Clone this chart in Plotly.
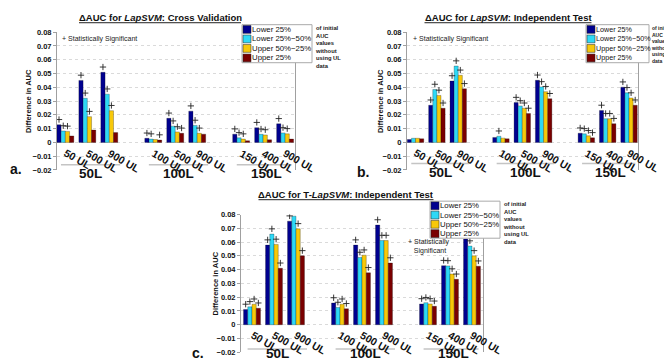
import plotly.graph_objects as go

W, H = 672, 361

# ---------------- data ----------------
clusters = [1, 2, 3, 5, 6, 7, 9, 10, 11]
ul_labels = ["50 UL", "500 UL", "900 UL", "100 UL", "500 UL", "900 UL", "150 UL", "400 UL", "900 UL"]
group_labels = ["50L", "100L", "150L"]
group_centers = [2.15, 6.15, 10.15]
group_spans = [(0.8, 3.5), (4.8, 7.5), (8.8, 11.3)]
series_names = ["Lower 25%", "Lower 25%\u221250%", "Upper 50%\u221225%", "Upper 25%"]
colors = ["#00008F", "#2ED8F6", "#F7C80A", "#7A0000"]

# Panel a: LapSVM, Cross Validation
a_lower25 = [0.0128, 0.0450, 0.0509, 0.0030, 0.0175, 0.0227, 0.0060, 0.0107, 0.0135]
a_lower2550 = [0.0083, 0.0320, 0.0350, 0.0024, 0.0118, 0.0123, 0.0033, 0.0059, 0.0069]
a_upper5025 = [0.0080, 0.0187, 0.0230, 0.0021, 0.0076, 0.0066, 0.0024, 0.0054, 0.0062]
a_upper25 = [0.0047, 0.0090, 0.0071, 0.0017, 0.0066, 0.0060, 0.0012, 0.0019, 0.0024]
a_sig_lower25 = [1, 1, 1, 1, 1, 1, 1, 1, 1]
a_sig_lower2550 = [1, 1, 1, 1, 1, 1, 1, 1, 1]
a_sig_upper5025 = [1, 1, 1, 0, 1, 1, 1, 1, 1]
a_sig_upper25 = [0, 0, 0, 1, 1, 0, 0, 0, 0]

# Panel b: LapSVM, Independent Test
b_lower25 = [0.0021, 0.0270, 0.0446, 0.0036, 0.0289, 0.0451, 0.0067, 0.0232, 0.0401]
b_lower2550 = [0.0030, 0.0384, 0.0554, 0.0045, 0.0265, 0.0403, 0.0062, 0.0172, 0.0360]
b_upper5025 = [0.0030, 0.0341, 0.0487, 0.0031, 0.0248, 0.0368, 0.0048, 0.0172, 0.0322]
b_upper25 = [0.0026, 0.0248, 0.0389, 0.0026, 0.0210, 0.0317, 0.0033, 0.0136, 0.0270]
b_sig_lower25 = [0, 1, 1, 0, 1, 1, 1, 1, 1]
b_sig_lower2550 = [0, 1, 1, 1, 1, 1, 1, 1, 1]
b_sig_upper5025 = [0, 1, 1, 0, 1, 1, 1, 1, 1]
b_sig_upper25 = [0, 1, 1, 0, 1, 1, 1, 1, 1]

# Panel c: T-LapSVM, Independent Test
c_lower25 = [0.0111, 0.0578, 0.0752, 0.0158, 0.0578, 0.0724, 0.0151, 0.0429, 0.0623]
c_lower2550 = [0.0130, 0.0658, 0.0788, 0.0125, 0.0488, 0.0611, 0.0160, 0.0427, 0.0571]
c_upper5025 = [0.0149, 0.0583, 0.0696, 0.0149, 0.0505, 0.0611, 0.0151, 0.0368, 0.0500]
c_upper25 = [0.0120, 0.0410, 0.0500, 0.0116, 0.0377, 0.0448, 0.0134, 0.0330, 0.0425]
c_sig_lower25 = [1, 1, 1, 1, 1, 1, 1, 1, 1]
c_sig_lower2550 = [1, 1, 1, 1, 1, 1, 1, 1, 1]
c_sig_upper5025 = [1, 1, 1, 1, 1, 1, 1, 1, 1]
c_sig_upper25 = [1, 1, 1, 1, 1, 1, 1, 1, 1]

y_min, y_max = -0.02, 0.08


def px(x):
    return x / W


def py(y):
    return 1 - y / H


panels = [
    dict(s="", vals=[a_lower25, a_lower2550, a_upper5025, a_upper25],
         sig=[a_sig_lower25, a_sig_lower2550, a_sig_upper5025, a_sig_upper25],
         dx=(49, 287), dy=(20.7, 162), xr=[0.62, 11.45],
         title="\u0394AUC for <i>LapSVM</i>: Cross Validation", tx=152, ty=5.5, tw=162,
         ylab_x=20, line_y=156.7, glab_y=165.5, plab="a.", plab_xy=(8, 161),
         leg=(234, 13, 304, 52), extra_x=306, leg_fs=7.8, ex_fs=5.8,
         sig_txt="+ Statistically Significant", sig_xy=(52, 28)),
    dict(s="2", vals=[b_lower25, b_lower2550, b_upper5025, b_upper25],
         sig=[b_sig_lower25, b_sig_lower2550, b_sig_upper5025, b_sig_upper25],
         dx=(399, 630), dy=(20.7, 162), xr=[0.6, 11.42],
         title="\u0394AUC for <i>LapSVM</i>: Independent Test", tx=500, ty=5.5, tw=167,
         ylab_x=372, line_y=155.5, glab_y=164.5, plab="b.", plab_xy=(355, 164),
         leg=(578, 13, 641, 52), extra_x=642, leg_fs=7.2, ex_fs=5.0,
         sig_txt="+ Statistically Significant", sig_xy=(403, 28)),
    dict(s="3", vals=[c_lower25, c_lower2550, c_upper5025, c_upper25],
         sig=[c_sig_lower25, c_sig_lower2550, c_sig_upper5025, c_sig_upper25],
         dx=(233, 475), dy=(207.7, 349), xr=[0.5, 11.5],
         title="\u0394AUC for T-<i>LapSVM</i>: Independent Test", tx=338, ty=187, tw=175,
         ylab_x=207, line_y=345.7, glab_y=350.5, plab="c.", plab_xy=(190, 350),
         leg=(422, 194, 492, 232), extra_x=494, leg_fs=7.8, ex_fs=5.8,
         sig_txt="+ Statistically<br>   Significant", sig_xy=(398, 241)),
]

fig = go.Figure()
annotations = []
shapes = []
bar_w = 0.77 / 4

for p in panels:
    s = p["s"]
    for k in range(4):
        fig.add_trace(go.Bar(
            x=clusters, y=p["vals"][k], name=series_names[k],
            marker=dict(color=colors[k], line=dict(color="rgba(0,0,0,0.5)", width=0.5)),
            xaxis="x" + s, yaxis="y" + s, showlegend=False, hoverinfo="skip"))
    for k in range(4):
        xs = [c + (k - 1.5) * bar_w for c, f in zip(clusters, p["sig"][k]) if f]
        ys = [v + 0.0038 for v, f in zip(p["vals"][k], p["sig"][k]) if f]
        fig.add_trace(go.Scatter(
            x=xs, y=ys, mode="markers",
            marker=dict(symbol="cross-thin", size=4.5, line=dict(width=0.9, color="#222")),
            xaxis="x" + s, yaxis="y" + s, showlegend=False, hoverinfo="skip"))

    dom_y = [py(p["dy"][1]), py(p["dy"][0])]
    zero_pos = dom_y[0] + (0 - y_min) / (y_max - y_min) * (dom_y[1] - dom_y[0])
    fig.update_layout(**{
        "xaxis" + s: dict(domain=[px(p["dx"][0]), px(p["dx"][1])], range=p["xr"],
                          showticklabels=False, showgrid=False, zeroline=False, showline=False, ticks="",
                          anchor="y" + s, fixedrange=True),
        "yaxis" + s: dict(domain=dom_y, range=[y_min, y_max], dtick=0.01, tick0=0,
                          showgrid=True, gridcolor="#dadada", griddash="dot", gridwidth=1,
                          zeroline=False, showline=True, linecolor="#a0a0a0", linewidth=1,
                          mirror=True, ticks="outside", ticklen=3, tickcolor="#a0a0a0",
                          tickfont=dict(family="Liberation Sans", size=7.5, color="#111", weight="bold"),
                          anchor="x" + s, fixedrange=True),
    })

    # rotated category tick labels at y = 0
    for c, lab in zip(clusters, ul_labels):
        annotations.append(dict(text="<b>" + lab + "</b>", x=c, y=zero_pos, xref="x" + s, yref="paper",
                                xshift=-6, yshift=-1.5, textangle=30, showarrow=False,
                                xanchor="left", yanchor="top",
                                font=dict(family="Liberation Sans", size=10.5, color="#111")))

    # title + underline
    annotations.append(dict(text="<b>" + p["title"] + "</b>", x=px(p["tx"]), y=py(p["ty"]),
                            xref="paper", yref="paper", showarrow=False, xanchor="center", yanchor="middle",
                            font=dict(family="Liberation Sans", size=9.5, color="#111")))
    shapes.append(dict(type="line", xref="paper", yref="paper",
                       x0=px(p["tx"] - p["tw"] / 2), x1=px(p["tx"] + p["tw"] / 2),
                       y0=py(p["ty"] + 5.5), y1=py(p["ty"] + 5.5), line=dict(color="#222", width=1)))
    # y axis label
    annotations.append(dict(text="<b>Difference in AUC</b>", x=px(p["ylab_x"]),
                            y=(dom_y[0] + dom_y[1]) / 2, xref="paper", yref="paper", textangle=-90,
                            showarrow=False, xanchor="center", yanchor="middle",
                            font=dict(family="Liberation Sans", size=7.5, color="#111")))
    # group lines and labels
    for (g0, g1), gc, gl in zip(group_spans, group_centers, group_labels):
        shapes.append(dict(type="line", xref="x" + s, yref="paper", x0=g0, x1=g1,
                           y0=py(p["line_y"]), y1=py(p["line_y"]), line=dict(color="#c4c4c4", width=1.5)))
        annotations.append(dict(text="<b>" + gl + "</b>", x=gc, y=py(p["glab_y"]), xref="x" + s, yref="paper",
                                showarrow=False, xanchor="center", yanchor="middle",
                                font=dict(family="Liberation Sans", size=13.5, color="#111")))
    # panel label
    annotations.append(dict(text="<b>" + p["plab"] + "</b>", x=px(p["plab_xy"][0]), y=py(p["plab_xy"][1]),
                            xref="paper", yref="paper", showarrow=False, xanchor="center", yanchor="middle",
                            font=dict(family="Liberation Sans", size=14, color="#111")))
    # significance note
    annotations.append(dict(text=p["sig_txt"], x=px(p["sig_xy"][0]), y=py(p["sig_xy"][1]),
                            xref="paper", yref="paper", showarrow=False, xanchor="left", yanchor="middle",
                            align="left", font=dict(family="Liberation Sans", size=7, color="#222")))
    # custom legend
    lx0, ly0, lx1, ly1 = p["leg"]
    shapes.append(dict(type="rect", xref="paper", yref="paper", x0=px(lx0), x1=px(lx1),
                       y0=py(ly1), y1=py(ly0), line=dict(color="#aaaaaa", width=1), fillcolor="white", layer="above"))
    row_h = (ly1 - ly0) / 4
    for k in range(4):
        cy = ly0 + row_h * (k + 0.5)
        shapes.append(dict(type="rect", xref="paper", yref="paper", x0=px(lx0 + 1), x1=px(lx0 + 9),
                           y0=py(cy + 4), y1=py(cy - 4), line=dict(color="#222", width=0.5),
                           fillcolor=colors[k], layer="above"))
        annotations.append(dict(text=series_names[k], x=px(lx0 + 9), y=py(cy), xref="paper", yref="paper",
                                showarrow=False, xanchor="left", yanchor="middle", borderpad=0,
                                font=dict(family="Liberation Sans", size=p["leg_fs"], color="#111")))
    annotations.append(dict(text="<b>of initial<br>AUC<br>values<br>without<br>using UL<br>data</b>",
                            x=px(p["extra_x"]), y=py(ly0 - 1), xref="paper", yref="paper",
                            showarrow=False, xanchor="left", yanchor="top", align="left", borderpad=0,
                            font=dict(family="Liberation Sans", size=p["ex_fs"], color="#222")))

fig.update_layout(
    width=W, height=H, margin=dict(l=0, r=0, t=0, b=0),
    paper_bgcolor="white", plot_bgcolor="white",
    barmode="group", bargap=0.23, bargroupgap=0,
    annotations=annotations, shapes=shapes, showlegend=False,
    font=dict(family="Liberation Sans"),
)

fig.write_html("out.html")
